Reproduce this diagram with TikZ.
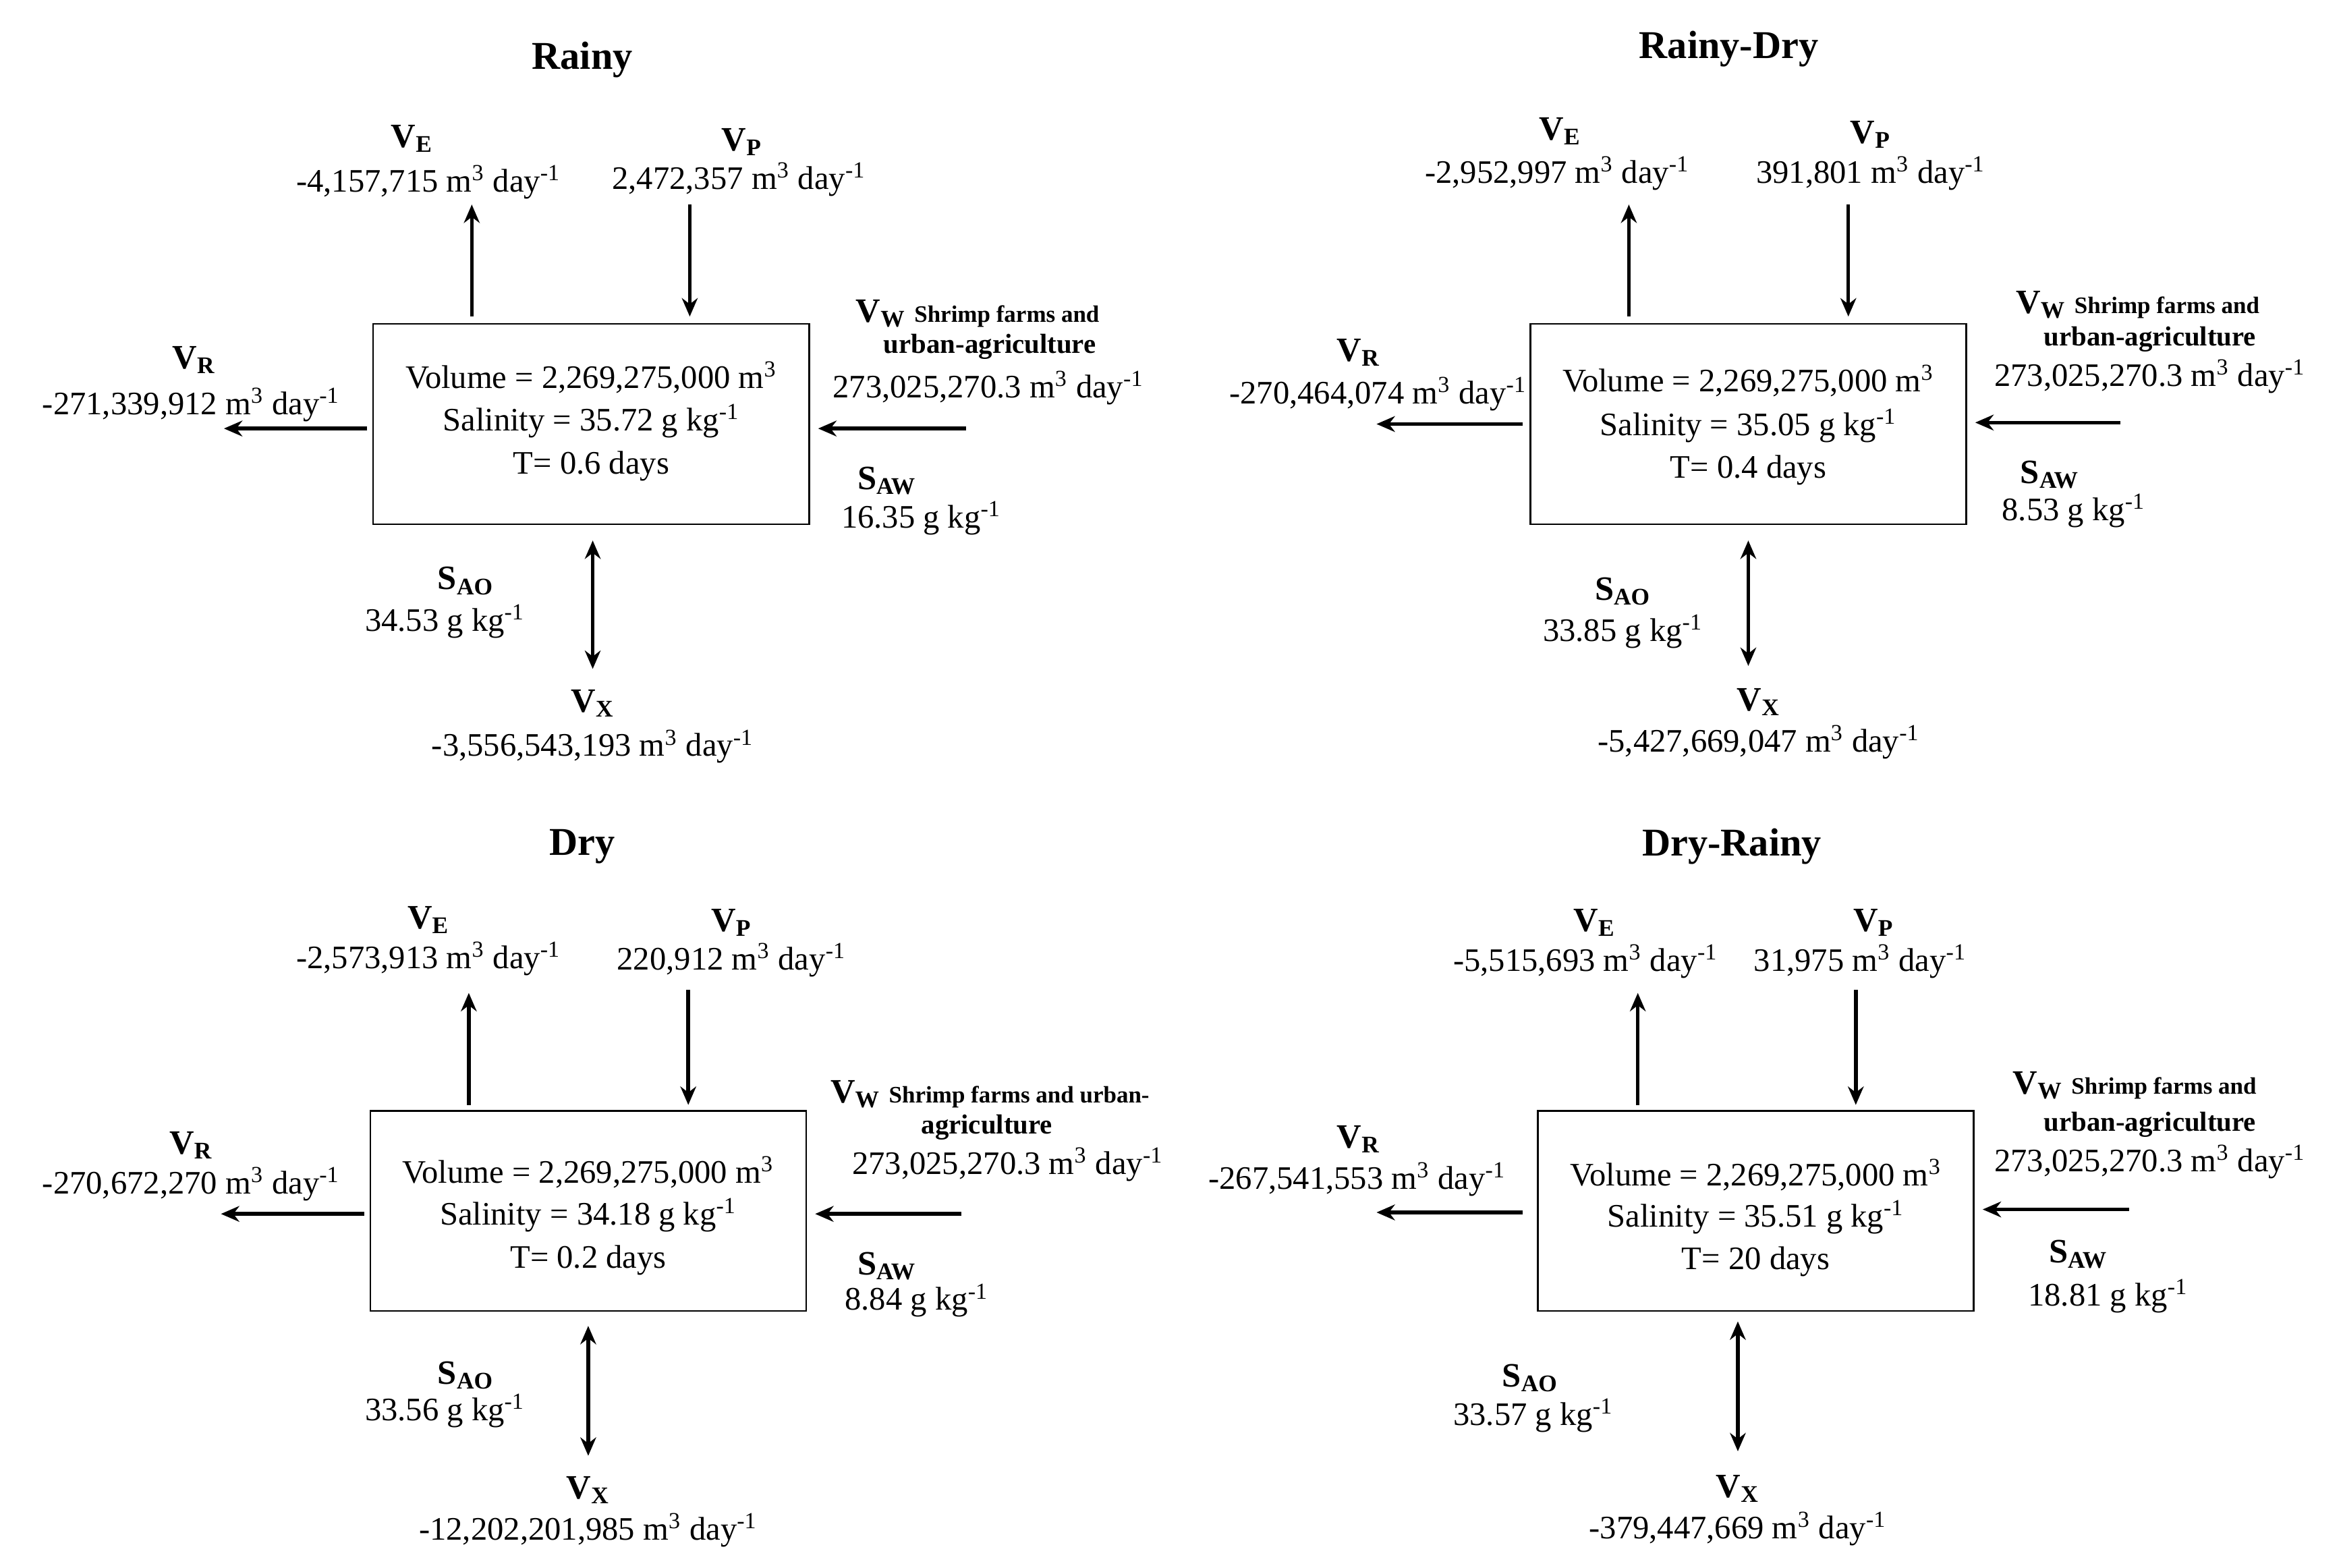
\documentclass[tikz,border=0pt]{standalone}
\usepackage{fontspec}
\setmainfont{Liberation Serif}
\usetikzlibrary{arrows.meta}
\newcommand{\Vs}[1]{\textbf{V\textsubscript{#1}}}
\newcommand{\Ss}[1]{\textbf{S\textsubscript{#1}}}
\newcommand{\unit}{m\textsuperscript{3} day\textsuperscript{-1}}
\newcommand{\gkg}{g kg\textsuperscript{-1}}
\tikzset{
  txt/.style={font=\fontsize{12.5}{14}\selectfont, inner sep=0pt},
  lab/.style={font=\fontsize{13}{14}\selectfont\bfseries, inner sep=0pt},
  small/.style={font=\fontsize{10.5}{12}\selectfont\bfseries, inner sep=0pt},
  title/.style={font=\fontsize{15}{17}\selectfont\bfseries, inner sep=0pt},
  box/.style={draw, line width=0.6pt},
  flow/.style={line width=1.4pt, -{Stealth[length=7pt,width=6pt]}},
  both/.style={line width=1.4pt, {Stealth[length=7pt,width=6pt]}-{Stealth[length=7pt,width=6pt]}}
}
\begin{document}
\begin{tikzpicture}[x=0.02cm, y=-0.02cm]
    \useasboundingbox (0,0) rectangle (1568,1050);

    % Rainy
    \node[title] (t1) at (390,40) {Rainy};
    \draw[box] (250,217) rectangle (542,351);
    \node[txt] (v1) at (396,253) {Volume = 2,269,275,000 m\textsuperscript{3}};
    \node[txt] (s1) at (396,282) {Salinity = 35.72 \gkg};
    \node[txt] (r1) at (396,312) {T= 0.6 days};
    \node[lab] (ve1) at (276,93) {\Vs{E}};
    \node[txt] (vev1) at (287,122) {-4,157,715 \unit};
    \node[lab] (vp1) at (497,95) {\Vs{P}};
    \node[txt] (vpv1) at (495,120) {2,472,357 \unit};
    \node[lab] (vr1) at (130,241) {\Vs{R}};
    \node[txt] (vrv1) at (128,271) {-271,339,912 \unit};
    \node[lab, anchor=west] (vw1) at (573,210) {\Vs{W} \small Shrimp farms and};
    \node[small] (vwb1) at (663,232) {urban-agriculture};
    \node[txt] (vwv1) at (662,260) {273,025,270.3 \unit};
    \node[lab] (saw1) at (594,322) {\Ss{AW}};
    \node[txt] (sawv1) at (617,347) {16.35 \gkg};
    \node[lab] (sao1) at (312,389) {\Ss{AO}};
    \node[txt] (saov1) at (298,416) {34.53 \gkg};
    \node[lab] (vx1) at (397,471) {\Vs{X}};
    \node[txt] (vxv1) at (397,500) {-3,556,543,193 \unit};
    \coordinate (a1) at (316,212); \coordinate (b1) at (316,137);
    \coordinate (c1) at (462,137); \coordinate (d1) at (462,212);
    \coordinate (e1) at (246,287); \coordinate (f1) at (150,287);
    \coordinate (g1) at (647,287); \coordinate (h1) at (548,287);
    \coordinate (i1) at (397,362); \coordinate (j1) at (397,448);
    \draw[flow] (a1) -- (b1);
    \draw[flow] (c1) -- (d1);
    \draw[flow] (e1) -- (f1);
    \draw[flow] (g1) -- (h1);
    \draw[both] (i1) -- (j1);

    % Rainy-Dry
    \node[title] (t2) at (1158,33) {Rainy-Dry};
    \draw[box] (1025,217) rectangle (1317,351);
    \node[txt] (v2) at (1171,255) {Volume = 2,269,275,000 m\textsuperscript{3}};
    \node[txt] (s2) at (1171,285) {Salinity = 35.05 \gkg};
    \node[txt] (r2) at (1171,315) {T= 0.4 days};
    \node[lab] (ve2) at (1045,88) {\Vs{E}};
    \node[txt] (vev2) at (1043,116) {-2,952,997 \unit};
    \node[lab] (vp2) at (1253,90) {\Vs{P}};
    \node[txt] (vpv2) at (1253,116) {391,801 \unit};
    \node[lab] (vr2) at (910,236) {\Vs{R}};
    \node[txt] (vrv2) at (923,264) {-270,464,074 \unit};
    \node[lab, anchor=west] (vw2) at (1350,204) {\Vs{W} \small Shrimp farms and};
    \node[small] (vwb2) at (1440,227) {urban-agriculture};
    \node[txt] (vwv2) at (1440,252) {273,025,270.3 \unit};
    \node[lab] (saw2) at (1373,318) {\Ss{AW}};
    \node[txt] (sawv2) at (1389,342) {8.53 \gkg};
    \node[lab] (sao2) at (1087,396) {\Ss{AO}};
    \node[txt] (saov2) at (1087,423) {33.85 \gkg};
    \node[lab] (vx2) at (1178,470) {\Vs{X}};
    \node[txt] (vxv2) at (1178,497) {-5,427,669,047 \unit};
    \coordinate (a2) at (1091,212); \coordinate (b2) at (1091,137);
    \coordinate (c2) at (1238,137); \coordinate (d2) at (1238,212);
    \coordinate (e2) at (1020,284); \coordinate (f2) at (922,284);
    \coordinate (g2) at (1420,283); \coordinate (h2) at (1323,283);
    \coordinate (i2) at (1171,362); \coordinate (j2) at (1171,446);
    \draw[flow] (a2) -- (b2);
    \draw[flow] (c2) -- (d2);
    \draw[flow] (e2) -- (f2);
    \draw[flow] (g2) -- (h2);
    \draw[both] (i2) -- (j2);

    % Dry
    \node[title] (t3) at (390,567) {Dry};
    \draw[box] (248,744) rectangle (540,878);
    \node[txt] (v3) at (394,785) {Volume = 2,269,275,000 m\textsuperscript{3}};
    \node[txt] (s3) at (394,814) {Salinity = 34.18 \gkg};
    \node[txt] (r3) at (394,844) {T= 0.2 days};
    \node[lab] (ve3) at (287,616) {\Vs{E}};
    \node[txt] (vev3) at (287,642) {-2,573,913 \unit};
    \node[lab] (vp3) at (490,618) {\Vs{P}};
    \node[txt] (vpv3) at (490,643) {220,912 \unit};
    \node[lab] (vr3) at (128,767) {\Vs{R}};
    \node[txt] (vrv3) at (128,793) {-270,672,270 \unit};
    \node[lab, anchor=west] (vw3) at (556,733) {\Vs{W} \small Shrimp farms and urban-};
    \node[small] (vwb3) at (661,755) {agriculture};
    \node[txt] (vwv3) at (675,780) {273,025,270.3 \unit};
    \node[lab] (saw3) at (594,848) {\Ss{AW}};
    \node[txt] (sawv3) at (614,871) {8.84 \gkg};
    \node[lab] (sao3) at (312,921) {\Ss{AO}};
    \node[txt] (saov3) at (298,945) {33.56 \gkg};
    \node[lab] (vx3) at (394,998) {\Vs{X}};
    \node[txt] (vxv3) at (394,1025) {-12,202,201,985 \unit};
    \coordinate (a3) at (314,740); \coordinate (b3) at (314,665);
    \coordinate (c3) at (461,663); \coordinate (d3) at (461,740);
    \coordinate (e3) at (244,813); \coordinate (f3) at (148,813);
    \coordinate (g3) at (644,813); \coordinate (h3) at (546,813);
    \coordinate (i3) at (394,888); \coordinate (j3) at (394,975);
    \draw[flow] (a3) -- (b3);
    \draw[flow] (c3) -- (d3);
    \draw[flow] (e3) -- (f3);
    \draw[flow] (g3) -- (h3);
    \draw[both] (i3) -- (j3);

    % Dry-Rainy
    \node[title] (t4) at (1160,567) {Dry-Rainy};
    \draw[box] (1030,744) rectangle (1322,878);
    \node[txt] (v4) at (1176,787) {Volume = 2,269,275,000 m\textsuperscript{3}};
    \node[txt] (s4) at (1176,815) {Salinity = 35.51 \gkg};
    \node[txt] (r4) at (1176,845) {T= 20 days};
    \node[lab] (ve4) at (1068,618) {\Vs{E}};
    \node[txt] (vev4) at (1062,644) {-5,515,693 \unit};
    \node[lab] (vp4) at (1255,618) {\Vs{P}};
    \node[txt] (vpv4) at (1246,644) {31,975 \unit};
    \node[lab] (vr4) at (910,763) {\Vs{R}};
    \node[txt] (vrv4) at (909,790) {-267,541,553 \unit};
    \node[lab, anchor=west] (vw4) at (1348,727) {\Vs{W} \small Shrimp farms and};
    \node[small] (vwb4) at (1440,753) {urban-agriculture};
    \node[txt] (vwv4) at (1440,778) {273,025,270.3 \unit};
    \node[lab] (saw4) at (1392,840) {\Ss{AW}};
    \node[txt] (sawv4) at (1412,868) {18.81 \gkg};
    \node[lab] (sao4) at (1025,923) {\Ss{AO}};
    \node[txt] (saov4) at (1027,948) {33.57 \gkg};
    \node[lab] (vx4) at (1164,997) {\Vs{X}};
    \node[txt] (vxv4) at (1164,1024) {-379,447,669 \unit};
    \coordinate (a4) at (1097,740); \coordinate (b4) at (1097,665);
    \coordinate (c4) at (1243,663); \coordinate (d4) at (1243,740);
    \coordinate (e4) at (1020,812); \coordinate (f4) at (922,812);
    \coordinate (g4) at (1426,810); \coordinate (h4) at (1328,810);
    \coordinate (i4) at (1164,885); \coordinate (j4) at (1164,972);
    \draw[flow] (a4) -- (b4);
    \draw[flow] (c4) -- (d4);
    \draw[flow] (e4) -- (f4);
    \draw[flow] (g4) -- (h4);
    \draw[both] (i4) -- (j4);
\end{tikzpicture}
\end{document}
